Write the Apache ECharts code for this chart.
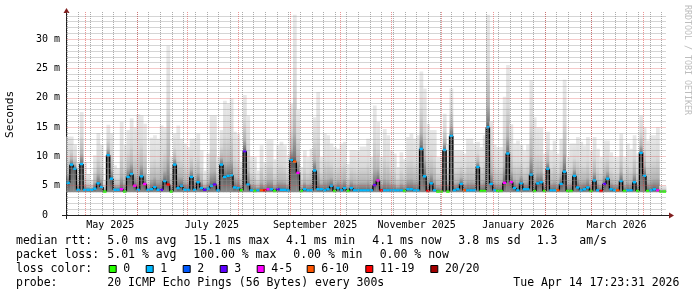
<!DOCTYPE html>
<html><head><meta charset="utf-8">
<script src="https://cdn.jsdelivr.net/npm/echarts@6/dist/echarts.min.js"></script>
<style>html,body{margin:0;padding:0;background:#fff}#c{width:697px;height:297px}</style>
</head><body><div id="c"></div>
<script>
// ---- data ----
const endTime = Date.UTC(2026, 3, 14, 17, 23, 31);
const spanDays = 360;
const stepDays = 2;
const smokeLowMs = 3.9;
const medianMs = [
5.5,8.6,7.9,4.3,8.7,4.3,4.3,4.3,4.5,5.4,
4.8,4.0,10.2,6.2,4.3,4.3,4.4,4.0,6.5,7.0,
5.0,4.3,6.6,5.3,4.3,4.4,4.8,4.3,4.3,5.8,
5.2,4.0,8.6,4.6,5.0,4.3,4.3,6.5,4.3,5.6,
4.6,4.3,4.5,5.0,5.2,4.2,8.6,6.5,6.7,6.8,
4.7,4.6,4.2,10.9,5.2,4.2,4.1,4.2,4.2,4.2,
4.4,4.4,4.1,4.4,4.3,4.3,4.2,9.4,9.1,7.2,
4.1,4.4,4.2,4.2,7.6,4.4,4.4,4.2,4.4,5.0,
4.1,4.6,4.2,4.6,4.1,4.6,4.2,4.2,4.2,4.2,
4.2,4.2,5.1,5.9,4.2,4.2,4.2,4.2,4.2,4.2,
4.2,4.1,4.4,4.4,4.2,4.2,11.3,6.6,4.1,5.4,
4.2,4.0,4.0,11.1,4.0,13.5,4.2,4.4,5.3,4.2,
4.2,4.2,4.2,8.2,4.1,4.1,15.0,5.3,4.2,4.1,
4.1,5.5,10.5,5.6,4.6,4.2,5.4,4.4,4.4,6.9,
4.1,5.4,5.6,4.1,7.9,4.2,4.2,4.2,5.3,7.4,
4.1,4.1,6.7,4.7,4.2,4.4,4.7,4.1,5.9,4.2,
4.1,5.3,6.2,4.4,4.2,4.2,5.8,4.1,4.2,4.2,
5.6,4.1,10.6,6.7,4.1,4.2,4.4,4.2,4.0,4.0];
const smokeTopMs = [
13.4,13.4,12,9,17.6,9,7,6,10.2,14,
12,6,15.4,14,8.5,8,15.9,12,14.5,16.5,
15,17.2,17,15.6,7,13.2,13.6,13,15.3,15,
28.9,10,13.9,15.3,13,12.2,11.6,13,13,13.9,
11,7.6,10.5,17,17,10,14.5,19.5,19,19.9,
14.2,13.8,9,20.5,17,10,9.9,7.6,11.9,9,
12.9,12.9,9.5,11.9,12.5,11.9,10.2,19,34.2,18,
8.2,11,9.9,11.3,16.7,21,9.9,13.9,13.6,12.2,
11.6,11.3,12.2,12.5,8.7,11.1,11.1,11,11.7,11.7,
13,9.9,18.7,15.9,9.9,14.7,13.6,11,10.5,8.2,
10.7,9.5,13.3,13.9,13,13.6,24.5,21.6,15.6,14.5,
14.5,9.9,9.9,17.3,12,21.6,11,11,11,10.5,
13,13,12.2,12.5,11.6,13.6,34.2,16,12,11.6,
11.6,20.2,25.6,15.5,12.2,12.7,12,11,12,23,
16.7,15,15,10.5,14.2,11,12.7,10.5,13,23.1,
9.9,12.2,12.2,13.3,12.5,11.9,13.3,11,13.3,11.3,
9.9,12.7,12.7,10.7,9.9,9.9,13.9,9.9,12.2,11.3,
13.6,10.5,17,15,12.7,13.6,13.6,15,5,5];
const lossBucket = [
1,1,1,1,1,1,1,1,1,1,
1,0,1,1,1,1,4,0,1,1,
4,1,1,4,1,1,1,1,3,1,
6,0,1,1,1,1,1,1,1,1,
1,3,1,1,3,1,1,1,1,1,
1,1,0,3,1,1,0,1,5,6,
4,1,0,3,1,1,1,1,5,4,
0,1,1,1,1,1,1,1,1,1,
0,1,1,1,0,1,1,1,1,1,
1,1,3,4,6,1,1,1,1,1,
1,0,1,1,1,1,1,1,6,1,
1,0,0,1,0,1,1,1,1,5,
1,1,1,1,0,0,1,1,1,0,
0,4,1,4,1,1,1,1,1,1,
0,1,1,0,1,1,1,5,1,1,
0,0,1,1,1,1,1,0,1,1,
6,3,1,1,1,5,1,0,1,1,
1,0,1,1,0,1,1,4,0,0];
const lossLabels = ['0','1','2','3','4-5','6-10','11-19','20/20'];
const lossColors = ['#26ff00','#00b8ff','#0059ff','#5e00ff','#ff00ff','#ff5500','#ff0000','#a10000'];
const yTickValues = [0,5,10,15,20,25,30];
const yMax = 34.66;
const xLabelDates = [[2025,4,16],[2025,6,16],[2025,8,16],[2025,10,16],[2026,0,16],[2026,2,16]];
const xLabelTexts = ['May 2025','July 2025','September 2025','November 2025','January 2026','March 2026'];
const statRows = [
  [['median rtt:',16],['5.0 ms avg',107.3],['15.1 ms max',193.3],['4.1 ms min',286],['4.1 ms now',372.3],['3.8 ms sd',458.3],['1.3',536.7],['am/s',579.3]],
  [['packet loss:',16],['5.01 % avg',107.3],['100.00 % max',193.3],['0.00 % min',293.3],['0.00 % now',379.7]],
  [['loss color:',16]],
  [['probe:',16],['20 ICMP Echo Pings (56 Bytes) every 300s',107.3],['Tue Apr 14 17:23:31 2026',513.3]]
];
const lossBoxX = [108.7,145.7,182.7,219.7,256.7,306.7,365.3,430.3];

// ---- derived ----
const DAY = 86400000;
const startTime = endTime - spanDays * DAY;
const times = medianMs.map((_, i) => startTime + i * stepDays * DAY);
const smokeData = medianMs.map((m, i) => [times[i], times[i] + stepDays * DAY, smokeTopMs[i], m, smokeLowMs]);
const vertData = medianMs.map((m, i) => [times[i], i > 0 ? medianMs[i-1] : m, m]);
const medData = medianMs.map((m, i) => [times[i], times[i] + stepDays * DAY, m, lossBucket[i]]);
const xLabelTimes = xLabelDates.map(d => Date.UTC(d[0], d[1], d[2]));

const monthStarts = [];
for (let y = 2025, mo = 4; !(y === 2026 && mo === 4); ) {
  monthStarts.push(Date.UTC(y, mo, 1));
  mo++; if (mo === 12) { mo = 0; y++; }
}
const weekLines = [];
for (let t = Date.UTC(2025, 3, 20); t <= endTime; t += 7 * DAY) weekLines.push(t);

const GRID = 'rgba(143,143,143,0.75)';
const MGRID = 'rgba(222,79,79,0.6)';
const gridMarks = [];
weekLines.forEach(t => gridMarks.push({xAxis: t, lineStyle: {color: GRID, type: [1,1], width: 1}}));
for (let v = 1; v < 35; v++) if (v % 5 !== 0 && v < yMax) gridMarks.push({yAxis: v, lineStyle: {color: GRID, type: [1,1], width: 1}});
monthStarts.forEach(t => gridMarks.push({xAxis: t, lineStyle: {color: MGRID, type: [1,1], width: 1}}));
yTickValues.filter(v => v > 0).forEach(v => gridMarks.push({yAxis: v, lineStyle: {color: MGRID, type: [1,1], width: 1}}));

const MONO = '"DejaVu Sans Mono", monospace';
const graphics = [];
statRows.forEach((row, r) => {
  const yc = 241 + r * 13.9;
  row.forEach(([txt, x]) => graphics.push({type: 'text', x: x, y: yc, silent: true,
    style: {text: txt, font: '11.5px ' + MONO, fill: '#000', align: 'left', verticalAlign: 'middle'}}));
});
lossLabels.forEach((lab, k) => {
  const bx = lossBoxX[k];
  graphics.push({type: 'rect', silent: true, shape: {x: bx + 0.5, y: 265.5, width: 7, height: 7},
    style: {fill: lossColors[k], stroke: '#000', lineWidth: 1}});
  graphics.push({type: 'text', x: bx + 14.6, y: 241 + 2 * 13.9, silent: true,
    style: {text: lab, font: '11.5px ' + MONO, fill: '#000', align: 'left', verticalAlign: 'middle'}});
});
graphics.push({type: 'line', silent: true, shape: {x1: 62, y1: 215.5, x2: 670, y2: 215.5}, style: {stroke: 'rgb(31,31,31)', lineWidth: 1}});
graphics.push({type: 'line', silent: true, shape: {x1: 66.5, y1: 219, x2: 66.5, y2: 11}, style: {stroke: 'rgb(31,31,31)', lineWidth: 1}});
graphics.push({type: 'polygon', silent: true, shape: {points: [[63.5, 13], [69.5, 13], [66.5, 8]]}, style: {fill: 'rgb(128,31,31)'}});
graphics.push({type: 'polygon', silent: true, shape: {points: [[669, 212.5], [669, 218.5], [674, 215.5]]}, style: {fill: 'rgb(128,31,31)'}});
graphics.push({type: 'text', x: 10.5, y: 114.4, rotation: Math.PI / 2, silent: true,
  style: {text: 'Seconds', font: '11.2px ' + MONO, fill: '#000', align: 'center', verticalAlign: 'middle'}});
graphics.push({type: 'text', x: 687, y: 60, rotation: -Math.PI / 2, silent: true,
  style: {text: 'RRDTOOL / TOBI OETIKER', font: '8.3px ' + MONO, fill: '#bdbdbd', align: 'center', verticalAlign: 'middle'}});

function smokeItem(params, api) {
  const t0 = api.value(0), t1 = api.value(1), top = api.value(2), med = api.value(3), lo = api.value(4);
  const p0 = api.coord([t0, top]), p1 = api.coord([t1, lo]);
  const d = top - med;
  const off = v => Math.min(1, Math.max(0, (top - v) / (top - lo)));
  const stops = [
    {offset: 0, color: '#e8e8e8'},
    {offset: off(med + 0.55 * d), color: '#dadada'},
    {offset: off(med + 0.2 * d), color: '#b4b4b4'},
    {offset: off(med + 0.04 * d), color: '#7a7a7a'},
    {offset: off(med), color: '#5a5a5a'},
    {offset: 1, color: '#8a8a8a'}
  ];
  for (let k = 1; k < stops.length; k++) if (stops[k].offset < stops[k-1].offset) stops[k].offset = stops[k-1].offset;
  return {type: 'rect', shape: {x: p0[0], y: p0[1], width: p1[0] - p0[0] + 0.4, height: p1[1] - p0[1]},
    style: {fill: new echarts.graphic.LinearGradient(0, 0, 0, 1, stops)}};
}
function vertItem(params, api) {
  const t = api.value(0), a = api.coord([t, api.value(1)]), b = api.coord([t, api.value(2)]);
  return {type: 'line', shape: {x1: a[0], y1: a[1], x2: b[0], y2: b[1]}, style: {stroke: '#000', lineWidth: 1.3}};
}
function medItem(params, api) {
  const a = api.coord([api.value(0), api.value(2)]), b = api.coord([api.value(1), api.value(2)]);
  return {type: 'line', shape: {x1: a[0], y1: a[1], x2: b[0], y2: b[1]},
    style: {stroke: lossColors[api.value(3)], lineWidth: 2.4}};
}

const chart = echarts.init(document.getElementById('c'), null, {renderer: 'canvas'});
chart.setOption({
  animation: false,
  backgroundColor: '#fff',
  grid: {left: 66.5, right: 31, top: 12, bottom: 82},
  xAxis: {type: 'time', min: startTime, max: endTime,
    axisLine: {show: false}, axisTick: {show: false}, splitLine: {show: false}, axisLabel: {show: false}},
  yAxis: {type: 'value', min: 0, max: yMax,
    axisLine: {show: false}, axisTick: {show: false}, splitLine: {show: false},
    axisLabel: {customValues: yTickValues, margin: 6.5, fontFamily: 'DejaVu Sans Mono', fontSize: 10, color: '#000',
      formatter: v => v === 0 ? '0  ' : v + ' m'}},
  series: [
    {type: 'line', data: [[startTime, 0]], showSymbol: false, lineStyle: {opacity: 0}, silent: true, z: 1,
      markLine: {silent: true, symbol: ['none', 'none'], label: {show: false}, animation: false, data: gridMarks}},
    {type: 'custom', renderItem: smokeItem, data: smokeData, encode: {x: [0, 1], y: [2, 4]}, silent: true, z: 2},
    {type: 'custom', renderItem: vertItem, data: vertData, encode: {x: 0, y: [1, 2]}, silent: true, z: 3},
    {type: 'custom', renderItem: medItem, data: medData, encode: {x: [0, 1], y: 2}, silent: true, z: 4}
  ]
});
xLabelTimes.forEach((t, k) => {
  const px = chart.convertToPixel({xAxisIndex: 0}, t);
  graphics.push({type: 'text', x: px, y: 225, silent: true,
    style: {text: xLabelTexts[k], font: '10px ' + MONO, fill: '#000', align: 'center', verticalAlign: 'middle'}});
});
chart.setOption({graphic: graphics});
</script></body></html>
